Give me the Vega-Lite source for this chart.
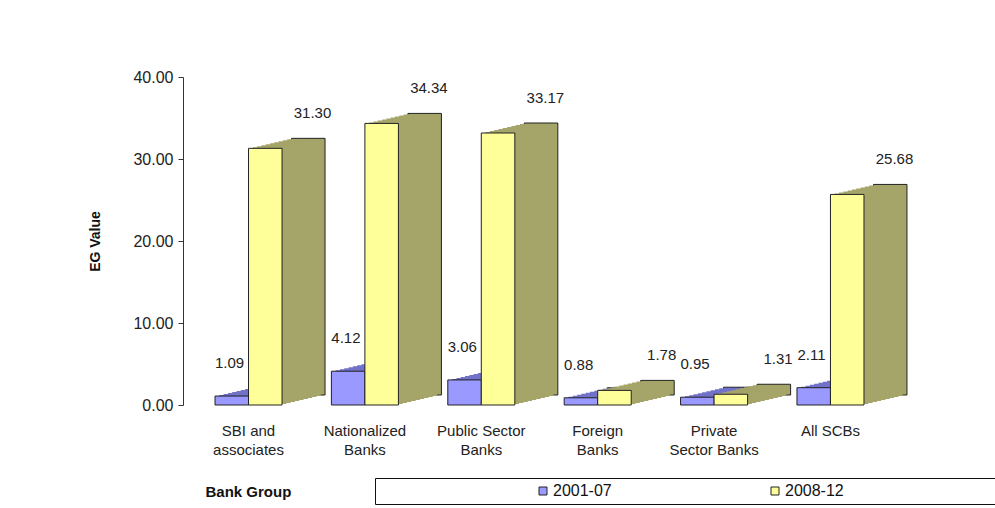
{
  "$schema": "https://vega.github.io/schema/vega-lite/v6.json",
  "width": 713,
  "height": 328,
  "autosize": {"type": "none"},
  "padding": {"left": 183, "top": 77, "right": 99, "bottom": 103},
  "background": "white",
  "config": {
    "view": {"stroke": null},
    "font": "Liberation Sans",
    "axis": {"labelFont": "Liberation Sans", "titleFont": "Liberation Sans", "labelColor": "#222", "titleColor": "#111"},
    "legend": {"labelFont": "Liberation Sans"}
  },
  "data": {
    "values": [
      {"bank": "SBI and associates", "series": "2001-07", "value": 1.09},
      {"bank": "SBI and associates", "series": "2008-12", "value": 31.30},
      {"bank": "Nationalized Banks", "series": "2001-07", "value": 4.12},
      {"bank": "Nationalized Banks", "series": "2008-12", "value": 34.34},
      {"bank": "Public Sector Banks", "series": "2001-07", "value": 3.06},
      {"bank": "Public Sector Banks", "series": "2008-12", "value": 33.17},
      {"bank": "Foreign Banks", "series": "2001-07", "value": 0.88},
      {"bank": "Foreign Banks", "series": "2008-12", "value": 1.78},
      {"bank": "Private Sector Banks", "series": "2001-07", "value": 0.95},
      {"bank": "Private Sector Banks", "series": "2008-12", "value": 1.31},
      {"bank": "All SCBs", "series": "2001-07", "value": 2.11},
      {"bank": "All SCBs", "series": "2008-12", "value": 25.68}
    ]
  },
  "encoding": {
    "x": {
      "field": "bank", "type": "nominal", "sort": null,
      "scale": {"paddingInner": 0.424, "paddingOuter": 0.275},
      "axis": {
        "title": "Bank Group", "titleFontSize": 15, "titleFontWeight": "bold",
        "titleAnchor": "start", "titleAlign": "left", "titleBaseline": "middle", "titleX": 22, "titleY": 86,
        "domain": false, "ticks": false, "labelAngle": 0, "labelFontSize": 15, "labelLineHeight": 19,
        "labelPadding": 18,
        "labelExpr": "datum.value == 'SBI and associates' ? ['SBI and', 'associates'] : datum.value == 'Nationalized Banks' ? ['Nationalized', 'Banks'] : datum.value == 'Public Sector Banks' ? ['Public Sector', 'Banks'] : datum.value == 'Foreign Banks' ? ['Foreign', 'Banks'] : datum.value == 'Private Sector Banks' ? ['Private', 'Sector Banks'] : datum.value"
      }
    },
    "y": {
      "field": "value", "type": "quantitative",
      "scale": {"domain": [0, 40]},
      "axis": {
        "title": "EG Value", "titleFontSize": 14, "titleFontWeight": "bold", "titlePadding": 30,
        "values": [0, 10, 20, 30, 40], "format": ".2f", "grid": false,
        "labelFontSize": 16, "tickSize": 5, "labelPadding": 5,
        "domainColor": "#333", "tickColor": "#333"
      }
    }
  },
  "layer": [
    {
      "transform": [{"filter": "datum.series == '2001-07'"}],
      "layer": [
        {"mark": {"type": "bar", "width": {"band": 0.5}, "fill": "#7272c9", "stroke": "#222", "strokeWidth": 1, "xOffset": 26.25, "x2Offset": 26.25, "yOffset": -10, "y2Offset": -10}},
        {"mark": {"type": "bar", "width": {"band": 0.5}, "fill": "#7272c9", "xOffset": 21.95, "x2Offset": 21.95, "yOffset": -9, "y2Offset": -9}},
        {"mark": {"type": "bar", "width": {"band": 0.5}, "fill": "#7272c9", "xOffset": 17.65, "x2Offset": 17.65, "yOffset": -8, "y2Offset": -8}},
        {"mark": {"type": "bar", "width": {"band": 0.5}, "fill": "#7272c9", "xOffset": 13.35, "x2Offset": 13.35, "yOffset": -7, "y2Offset": -7}},
        {"mark": {"type": "bar", "width": {"band": 0.5}, "fill": "#7272c9", "xOffset": 9.05, "x2Offset": 9.05, "yOffset": -6, "y2Offset": -6}},
        {"mark": {"type": "bar", "width": {"band": 0.5}, "fill": "#7272c9", "xOffset": 4.75, "x2Offset": 4.75, "yOffset": -5, "y2Offset": -5}},
        {"mark": {"type": "bar", "width": {"band": 0.5}, "fill": "#7272c9", "xOffset": 0.45, "x2Offset": 0.45, "yOffset": -4, "y2Offset": -4}},
        {"mark": {"type": "bar", "width": {"band": 0.5}, "fill": "#7272c9", "xOffset": -3.85, "x2Offset": -3.85, "yOffset": -3, "y2Offset": -3}},
        {"mark": {"type": "bar", "width": {"band": 0.5}, "fill": "#7272c9", "xOffset": -8.15, "x2Offset": -8.15, "yOffset": -2, "y2Offset": -2}},
        {"mark": {"type": "bar", "width": {"band": 0.5}, "fill": "#7272c9", "xOffset": -12.45, "x2Offset": -12.45, "yOffset": -1, "y2Offset": -1}}
      ]
    },
    {
      "transform": [{"filter": "datum.series == '2008-12'"}],
      "layer": [
        {"mark": {"type": "bar", "width": {"band": 0.5}, "fill": "#a5a56a", "stroke": "#222", "strokeWidth": 1, "xOffset": 59.75, "x2Offset": 59.75, "yOffset": -10, "y2Offset": -10}},
        {"mark": {"type": "bar", "width": {"band": 0.5}, "fill": "#a5a56a", "xOffset": 55.45, "x2Offset": 55.45, "yOffset": -9, "y2Offset": -9}},
        {"mark": {"type": "bar", "width": {"band": 0.5}, "fill": "#a5a56a", "xOffset": 51.15, "x2Offset": 51.15, "yOffset": -8, "y2Offset": -8}},
        {"mark": {"type": "bar", "width": {"band": 0.5}, "fill": "#a5a56a", "xOffset": 46.85, "x2Offset": 46.85, "yOffset": -7, "y2Offset": -7}},
        {"mark": {"type": "bar", "width": {"band": 0.5}, "fill": "#a5a56a", "xOffset": 42.55, "x2Offset": 42.55, "yOffset": -6, "y2Offset": -6}},
        {"mark": {"type": "bar", "width": {"band": 0.5}, "fill": "#a5a56a", "xOffset": 38.25, "x2Offset": 38.25, "yOffset": -5, "y2Offset": -5}},
        {"mark": {"type": "bar", "width": {"band": 0.5}, "fill": "#a5a56a", "xOffset": 33.95, "x2Offset": 33.95, "yOffset": -4, "y2Offset": -4}},
        {"mark": {"type": "bar", "width": {"band": 0.5}, "fill": "#a5a56a", "xOffset": 29.65, "x2Offset": 29.65, "yOffset": -3, "y2Offset": -3}},
        {"mark": {"type": "bar", "width": {"band": 0.5}, "fill": "#a5a56a", "xOffset": 25.35, "x2Offset": 25.35, "yOffset": -2, "y2Offset": -2}},
        {"mark": {"type": "bar", "width": {"band": 0.5}, "fill": "#a5a56a", "xOffset": 21.05, "x2Offset": 21.05, "yOffset": -1, "y2Offset": -1}}
      ]
    },
    {
      "transform": [{"filter": "datum.series == '2001-07'"}],
      "layer": [
        {
          "mark": {"type": "bar", "width": {"band": 0.5}, "stroke": "#222", "strokeWidth": 1, "xOffset": -16.75, "x2Offset": -16.75},
          "encoding": {"color": {"field": "series", "type": "nominal", "scale": {"domain": ["2001-07", "2008-12"], "range": ["#9999ff", "#ffff99"]}}}
        },
        {
          "mark": {"type": "text", "dx": -19, "dy": -33, "fontSize": 15, "color": "#222", "baseline": "middle"},
          "encoding": {"text": {"field": "value", "type": "quantitative", "format": ".2f"}}
        }
      ]
    },
    {
      "transform": [{"filter": "datum.series == '2008-12'"}],
      "layer": [
        {
          "mark": {"type": "bar", "width": {"band": 0.5}, "stroke": "#222", "strokeWidth": 1, "xOffset": 16.75, "x2Offset": 16.75},
          "encoding": {"color": {
            "field": "series", "type": "nominal",
            "scale": {"domain": ["2001-07", "2008-12"], "range": ["#9999ff", "#ffff99"]},
            "legend": {
              "title": "\u00a0", "titleOrient": "right", "titlePadding": 160, "titleFontSize": 16,
              "orient": "none", "legendX": 192, "legendY": 401, "direction": "horizontal",
              "strokeColor": "#111", "fillColor": "white", "padding": 5,
              "symbolOffset": 155, "columnPadding": 0, "labelFontSize": 16, "labelColor": "#111",
              "symbolType": "square", "symbolSize": 64, "symbolStrokeColor": "#222", "symbolStrokeWidth": 1, "labelOffset": 2
            }
          }}
        },
        {
          "mark": {"type": "text", "dx": 64, "dy": -35, "fontSize": 15, "color": "#222", "baseline": "middle"},
          "encoding": {"text": {"field": "value", "type": "quantitative", "format": ".2f"}}
        }
      ]
    }
  ]
}
